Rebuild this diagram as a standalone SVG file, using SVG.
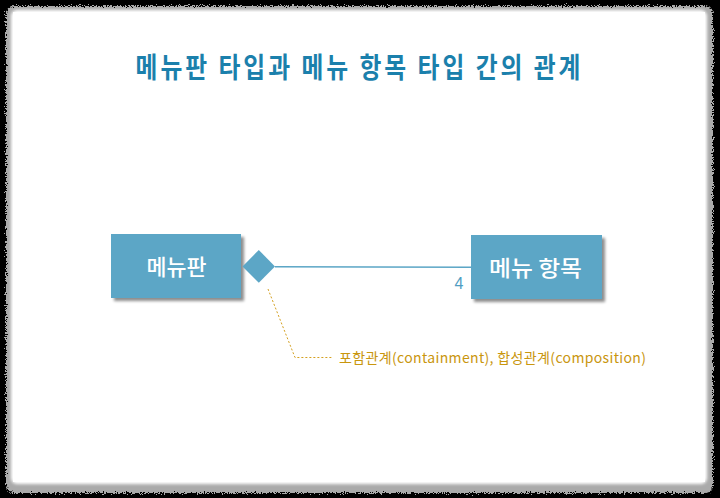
<svg xmlns="http://www.w3.org/2000/svg" width="720" height="498" viewBox="0 0 720 498">
<defs>
<style>
.title{font-family:"Noto Sans CJK KR","Noto Sans",sans-serif;font-size:28px;font-weight:bold;fill:#1b80ac}
.box{fill:#5ca6c6}
.boxtxt{font-family:"Noto Sans CJK KR","Noto Sans",sans-serif;font-size:22px;font-weight:500;fill:#ffffff}
.note{font-family:"Noto Sans CJK KR","Noto Sans",sans-serif;font-size:14px;fill:#c9960e}
.mult{font-family:"Liberation Sans","Noto Sans",sans-serif;font-size:16px;fill:#4f9dc2}
</style>
<filter id="rough" x="-3%" y="-3%" width="106%" height="106%">
<feTurbulence type="fractalNoise" baseFrequency="0.9" numOctaves="2" seed="3" result="n"/>
<feDisplacementMap in="SourceGraphic" in2="n" scale="7" xChannelSelector="R" yChannelSelector="G"/>
</filter>
<filter id="soft" x="-3%" y="-3%" width="106%" height="106%">
<feGaussianBlur stdDeviation="1.5"/>
</filter>
<filter id="shadow" x="-10%" y="-10%" width="130%" height="130%">
<feGaussianBlur in="SourceAlpha" stdDeviation="1.5"/>
<feOffset dx="3" dy="3" result="b"/>
<feComponentTransfer><feFuncA type="linear" slope="0.45"/></feComponentTransfer>
<feMerge><feMergeNode/><feMergeNode in="SourceGraphic"/></feMerge>
</filter>
</defs>
<rect x="0" y="0" width="720" height="498" fill="#000000"/>
<rect x="6" y="6" width="707" height="487" rx="8" fill="#aaaaaa" filter="url(#rough)"/>
<rect x="11" y="10" width="696" height="474" rx="6" fill="#ffffff" filter="url(#soft)"/>
<rect x="13" y="12" width="692" height="470" fill="#ffffff"/>
<g transform="scale(0.85,1)">
<text class="title" x="421.2" y="78" text-anchor="middle" textLength="523.5" lengthAdjust="spacing">메뉴판 타입과 메뉴 항목 타입 간의 관계</text>
</g>
<g id="connectors">
<line x1="275" y1="266.8" x2="472" y2="267.3" stroke="#5ca6c6" stroke-width="1.6"/>
<polyline points="268,289 295,357.5 332,357.5" fill="none" stroke="#d4a020" stroke-width="1" stroke-dasharray="2,2"/>
<text class="mult" x="454.5" y="289">4</text>
</g>
<g id="node-menupan">
<rect class="box" x="111" y="234" width="130" height="64" filter="url(#shadow)"/>
<text class="boxtxt" x="176.5" y="275" text-anchor="middle" textLength="60" lengthAdjust="spacingAndGlyphs">메뉴판</text>
</g>
<g id="diamond">
<polygon class="box" points="242.5,266.5 258.8,250 275,266.5 258.8,282.7"/>
</g>
<g id="node-menuitem">
<rect class="box" x="471" y="235" width="131" height="64" filter="url(#shadow)"/>
<text class="boxtxt" x="535.5" y="276" text-anchor="middle" textLength="93" lengthAdjust="spacingAndGlyphs">메뉴 항목</text>
</g>
<g id="note">
<text class="note" x="339" y="363" textLength="307" lengthAdjust="spacing">포함관계(containment), 합성관계(composition)</text>
</g>
</svg>
